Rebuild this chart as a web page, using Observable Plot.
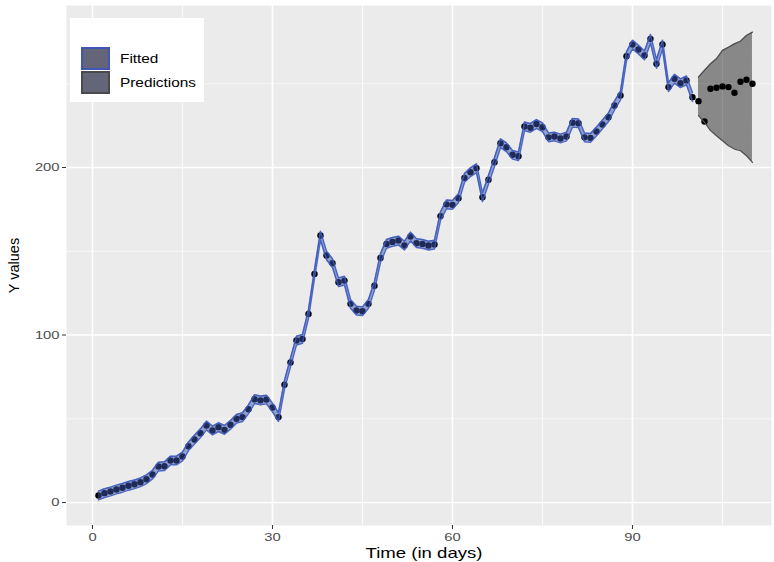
<!DOCTYPE html>
<html><head><meta charset="utf-8">
<script src="https://cdn.jsdelivr.net/npm/d3@7"></script>
<script src="https://cdn.jsdelivr.net/npm/@observablehq/plot@0.6"></script>
<style>
body{margin:0;background:#fff;font-family:"Liberation Sans",Arial,Helvetica,sans-serif;}
#wrap{position:relative;width:774px;height:562px;}
#legend{position:absolute;left:70px;top:18px;width:134px;height:84px;background:#fff;}
.key{position:absolute;box-sizing:border-box;left:10.5px;width:29px;height:23px;background:#65657a;}
.lab{position:absolute;left:50px;font-size:12px;color:#000;line-height:14px;transform:scaleX(1.28);transform-origin:0 50%;white-space:nowrap;}
</style>
</head><body>
<div id="wrap">
  <div id="chart"></div>
  <div id="legend">
    <div class="key" style="top:29px;border:2px solid #3f55b8;"></div>
    <div class="lab" style="top:34px;">Fitted</div>
    <div class="key" style="top:53px;border:2px solid #4a4a4a;"></div>
    <div class="lab" style="top:58px;">Predictions</div>
  </div>
</div>
<script>
// ---- data ----
const days = [1,2,3,4,5,6,7,8,9,10,11,12,13,14,15,16,17,18,19,20,21,22,23,24,25,26,27,28,29,30,
  31,32,33,34,35,36,37,38,39,40,41,42,43,44,45,46,47,48,49,50,51,52,53,54,55,56,57,58,59,60,
  61,62,63,64,65,66,67,68,69,70,71,72,73,74,75,76,77,78,79,80,81,82,83,84,85,86,87,88,89,90,
  91,92,93,94,95,96,97,98,99,100,101,102,103,104,105,106,107,108,109,110];
const observed = [4.2,5.6,6.6,7.8,8.8,10.0,10.9,12.1,13.9,16.7,21.5,21.7,25.1,25.1,27.5,33.6,37.6,41.4,46.0,43.0,
  45.0,43.4,46.4,50.0,51.0,55.7,61.7,61.0,61.5,56.7,51.0,70.3,83.6,96.7,97.7,112.6,136.5,159.4,147.5,142.9,
  131.5,132.5,118.6,114.6,114.2,118.6,129.4,146.0,154.4,155.6,156.4,153.4,158.8,154.8,154.4,153.4,154.0,171.0,178.0,177.7,
  181.7,193.8,197.2,199.6,182.3,192.7,203.2,214.5,212.1,207.6,206.7,224.5,223.7,226.0,224.0,218.0,218.5,217.3,218.5,226.7,
  226.4,218.0,217.7,221.5,225.7,230.0,237.0,243.0,266.4,273.4,270.4,266.9,276.8,261.9,273.4,248.0,253.0,250.3,252.0,242.0,
  239.6,227.5,247.0,247.6,248.4,248.0,244.6,251.2,252.4,250.0];
const fitDays = days.slice(0, 100);
const fitLower = [1.6,3.0,4.0,5.2,6.2,7.4,8.3,9.5,11.3,14.1,18.9,19.1,22.5,22.5,24.9,31.0,35.0,38.8,43.4,40.4,
  42.4,40.8,43.8,47.4,48.4,53.1,59.1,58.4,58.9,54.1,48.4,67.7,81.0,94.1,95.1,110.0,133.9,156.8,144.9,140.3,
  128.9,129.9,116.0,112.0,111.6,116.0,126.8,143.4,151.8,153.0,153.8,150.8,156.2,152.2,151.8,150.8,151.4,168.4,175.4,175.1,
  179.1,191.2,194.6,197.0,179.7,190.1,200.6,211.9,209.5,205.0,204.1,221.9,221.1,223.4,221.4,215.4,215.9,214.7,215.9,224.1,
  223.8,215.4,215.1,218.9,223.1,227.4,234.4,240.4,263.8,270.8,267.8,264.3,274.2,259.3,270.8,245.4,250.4,247.7,249.4,239.4];
const fitUpper = [6.8,8.2,9.2,10.4,11.4,12.6,13.5,14.7,16.5,19.3,24.1,24.3,27.7,27.7,30.1,36.2,40.2,44.0,48.6,45.6,
  47.6,46.0,49.0,52.6,53.6,58.3,64.3,63.6,64.1,59.3,53.6,72.9,86.2,99.3,100.3,115.2,139.1,162.0,150.1,145.5,
  134.1,135.1,121.2,117.2,116.8,121.2,132.0,148.6,157.0,158.2,159.0,156.0,161.4,157.4,157.0,156.0,156.6,173.6,180.6,180.3,
  184.3,196.4,199.8,202.2,184.9,195.3,205.8,217.1,214.7,210.2,209.3,227.1,226.3,228.6,226.6,220.6,221.1,219.9,221.1,229.3,
  229.0,220.6,220.3,224.1,228.3,232.6,239.6,245.6,269.0,276.0,273.0,269.5,279.4,264.5,276.0,250.6,255.6,252.9,254.6,244.6];
const predDays = [101,102,103,104,105,106,107,108,109,110];
const predLower = [231,227,222,219,216,213,211,210,207,203];
const predUpper = [254,258,261.9,264.9,269.9,271.8,273.8,275.4,278.8,280.8];
const xTicks = [0,30,60,90];
const yTicks = [0,100,200];
const xMinor = [15,45,75,105];
const yMinor = [50,150,250];

const obsData = days.map((d,i)=>({x:d, y:observed[i]}));
const fitData = fitDays.map((d,i)=>({x:d, lo:fitLower[i], hi:fitUpper[i]}));
const predData = predDays.map((d,i)=>({x:d, lo:predLower[i], hi:predUpper[i]}));

const font = '"Liberation Sans",Arial,Helvetica,sans-serif';
const chart = Plot.plot({
  width: 774, height: 562,
  marginLeft: 66, marginRight: 3, marginTop: 5, marginBottom: 37,
  style: {fontFamily: font, background: "#fff", overflow: "visible"},
  x: {domain: [-4.33, 113.17]},
  y: {domain: [-13.7, 296.7]},
  marks: [
    Plot.frame({fill: "#ebebeb", stroke: null}),
    Plot.ruleX(xMinor, {stroke: "#fff", strokeWidth: 0.8}),
    Plot.ruleY(yMinor, {stroke: "#fff", strokeWidth: 0.6}),
    Plot.ruleX(xTicks, {stroke: "#fff", strokeWidth: 1.6}),
    Plot.ruleY(yTicks, {stroke: "#fff", strokeWidth: 1.3}),
    Plot.dot(obsData, {x: "x", y: "y", r: 3.2, fill: "#000", stroke: null}),
    Plot.areaY(fitData, {x: "x", y1: "lo", y2: "hi", fill: "rgb(60,85,178)", fillOpacity: 0.5}),
    Plot.line(fitData, {x: "x", y: "lo", stroke: "#3b59bd", strokeWidth: 1.5, strokeOpacity: 0.9}),
    Plot.line(fitData, {x: "x", y: "hi", stroke: "#3b59bd", strokeWidth: 1.5, strokeOpacity: 0.9}),
    Plot.areaY(predData, {x: "x", y1: "lo", y2: "hi", fill: "#000", fillOpacity: 0.42}),
    Plot.line(predData, {x: "x", y: "lo", stroke: "#4d4d4d", strokeWidth: 1.2}),
    Plot.line(predData, {x: "x", y: "hi", stroke: "#4d4d4d", strokeWidth: 1.2}),
    Plot.axisX(xTicks, {tickSize: 4, tickPadding: 3, fontSize: 11.5, fill: "#4d4d4d", stroke: "#333", label: null}),
    Plot.axisY(yTicks, {tickSize: 4, tickPadding: 3, fontSize: 11.5, fill: "#4d4d4d", stroke: "#333", label: null}),
    Plot.text(["Time (in days)"], {frameAnchor: "bottom", lineAnchor: "middle", textAnchor: "middle", dy: 28, dx: 5, fontSize: 14.5, fill: "#000"}),
    Plot.text(["Y values"], {frameAnchor: "left", lineAnchor: "middle", textAnchor: "middle", dx: -52, rotate: -90, fontSize: 14.5, fill: "#000"})
  ]
});
document.getElementById("chart").appendChild(chart);
// the reference's lettering is horizontally wide; widen horizontal texts
chart.querySelectorAll("text").forEach(t => {
  if (t.textContent === "Y values") return;
  const w = t.getComputedTextLength();
  if (w > 0) { t.setAttribute("textLength", (w * 1.28).toFixed(1)); t.setAttribute("lengthAdjust", "spacingAndGlyphs"); }
});
</script>
</body></html>
